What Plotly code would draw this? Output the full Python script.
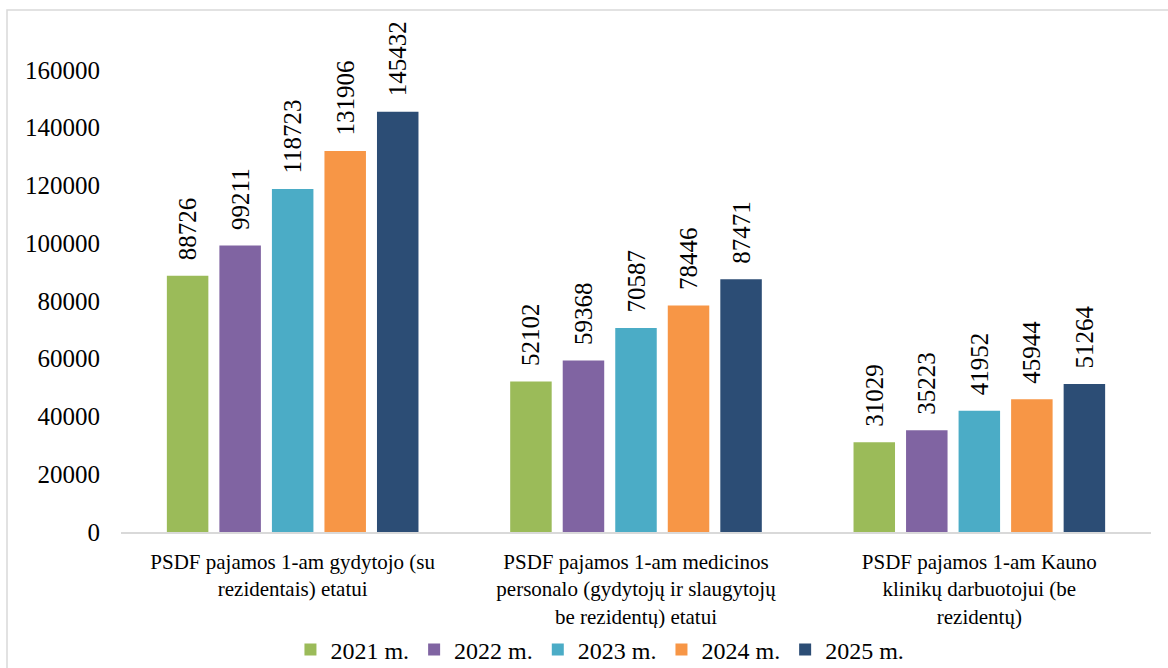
import plotly.graph_objects as go

categories = [
    "PSDF pajamos 1-am gydytojo (su<br>rezidentais) etatui",
    "PSDF pajamos 1-am medicinos<br>personalo (gydytojų ir slaugytojų<br>be rezidentų) etatui",
    "PSDF pajamos 1-am Kauno<br>klinikų darbuotojui (be<br>rezidentų)",
]
series_names = ["2021 m.", "2022 m.", "2023 m.", "2024 m.", "2025 m."]
v2021 = [88726, 52102, 31029]
v2022 = [99211, 59368, 35223]
v2023 = [118723, 70587, 41952]
v2024 = [131906, 78446, 45944]
v2025 = [145432, 87471, 51264]
y_ticks = [0, 20000, 40000, 60000, 80000, 100000, 120000, 140000, 160000]

series_values = [v2021, v2022, v2023, v2024, v2025]
colors = ["#9bbb59", "#8064a2", "#4bacc6", "#f79646", "#2c4d75"]
FONT = "Liberation Serif"

fig = go.Figure()
for name, vals, col in zip(series_names, series_values, colors):
    fig.add_trace(go.Bar(
        x=categories, y=vals, name=name,
        marker=dict(color=col, line=dict(width=0)),
        text=["\u00a0\u00a0" + str(v) for v in vals],
        textposition="outside", textangle=-90,
        textfont=dict(family=FONT, size=25, color="#000000"),
        constraintext="none", cliponaxis=False,
    ))

fig.update_layout(
    width=1168, height=668,
    margin=dict(l=121, r=17, t=12, b=136, autoexpand=False),
    paper_bgcolor="white", plot_bgcolor="white",
    barmode="group", bargap=0.235, bargroupgap=0.21,
    font=dict(family=FONT, color="#000000"),
    showlegend=True,
    legend=dict(orientation="h", x=0.465, xanchor="center", y=(532 - 650) / 520, yanchor="middle",
                font=dict(family=FONT, size=24, color="#000000"),
                itemclick=False, traceorder="normal"),
    xaxis=dict(showline=True, linecolor="#d9d9d9", linewidth=1.5, ticks="",
               showgrid=False, zeroline=False, automargin=False,
               ticklabelstandoff=10,
               tickfont=dict(family=FONT, size=21, color="#000000")),
    yaxis=dict(range=[0, 180000], tickvals=y_ticks, ticktext=[str(t) for t in y_ticks],
               showgrid=False, zeroline=False, showline=False, ticks="",
               ticklabelstandoff=20, automargin=False,
               tickfont=dict(family=FONT, size=25, color="#000000")),
    shapes=[dict(type="rect", xref="paper", yref="paper",
                 x0=(7 - 121) / 1030, x1=1.2, y0=-0.4, y1=(532 - 10) / 520,
                 line=dict(color="#d9d9d9", width=1.5), fillcolor="rgba(0,0,0,0)",
                 layer="below")],
)

fig.write_html(
    "out.html",
    config={"displayModeBar": False},
    post_script="document.body.style.margin='0';document.body.style.overflow='hidden';",
)
